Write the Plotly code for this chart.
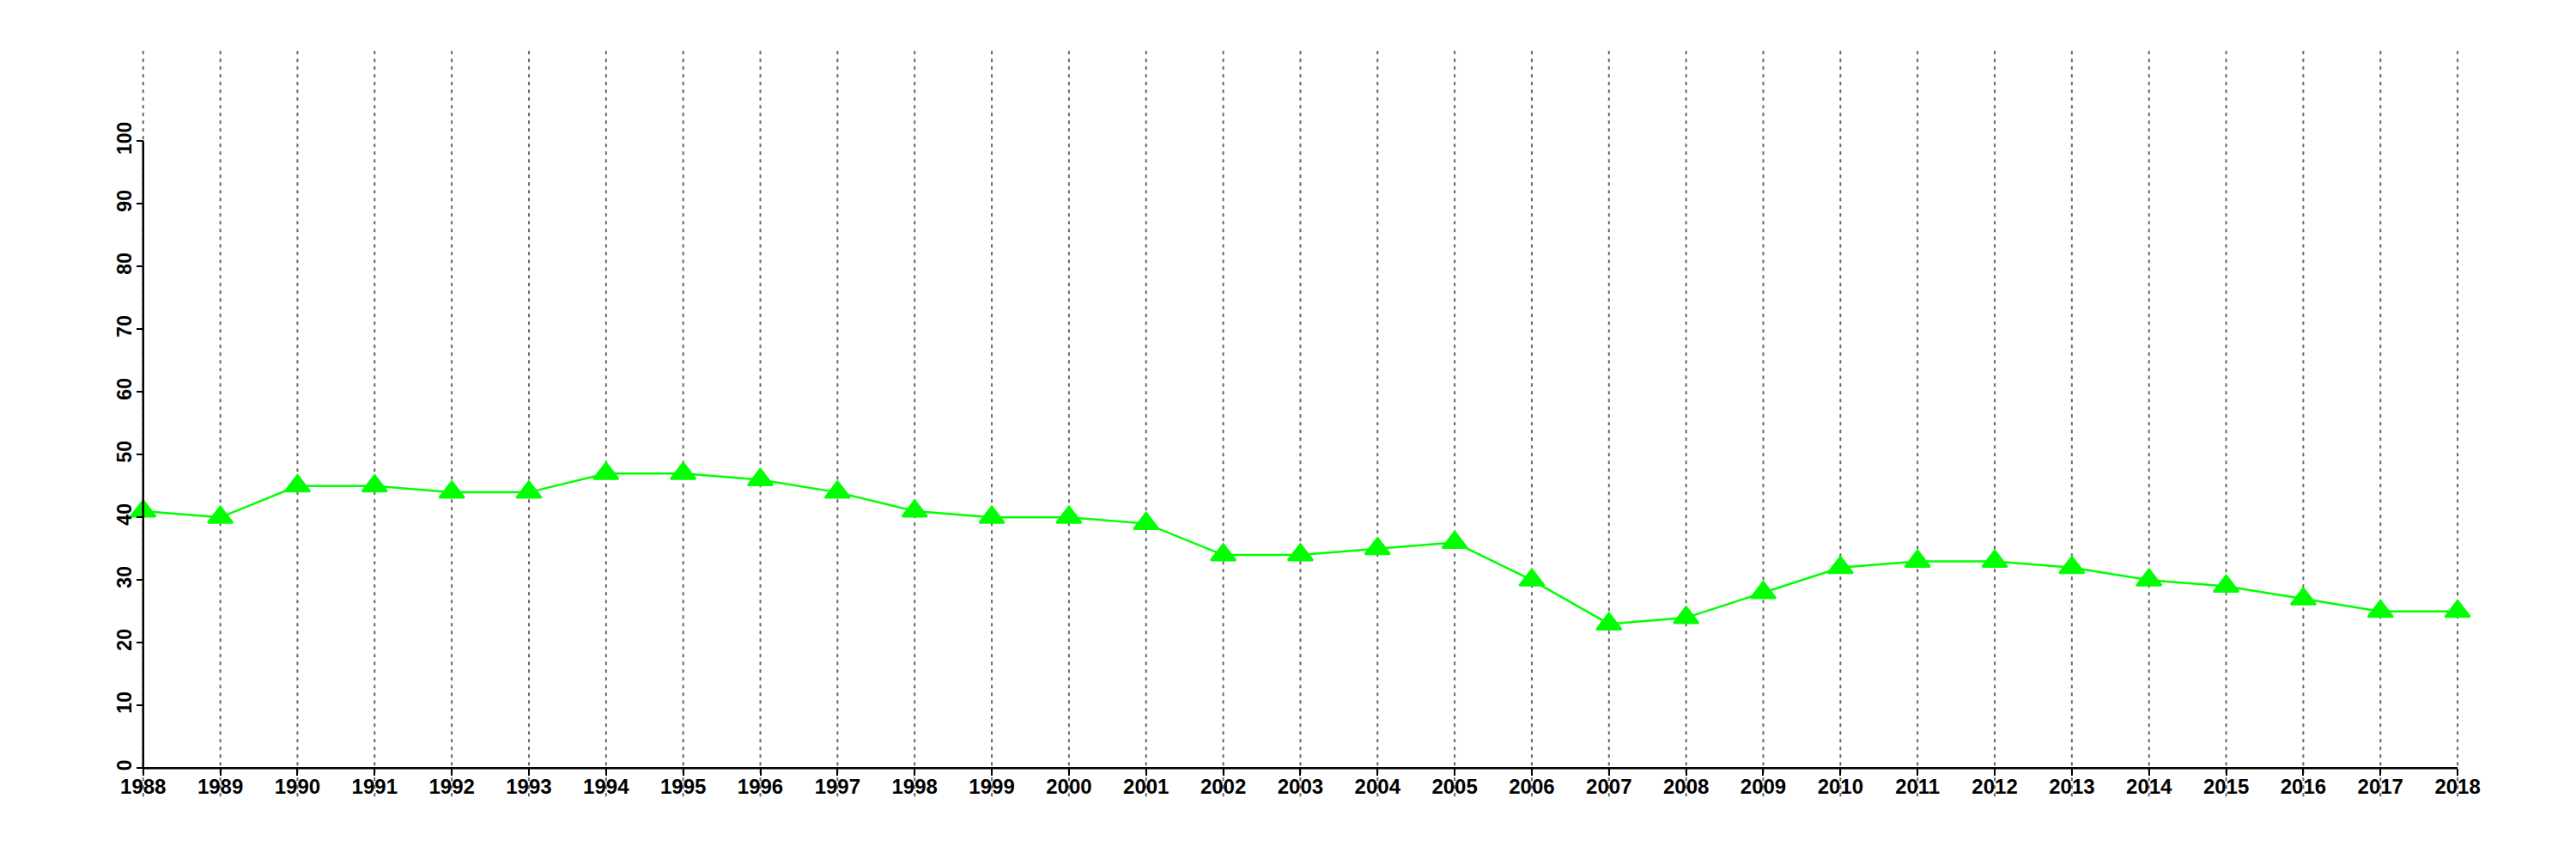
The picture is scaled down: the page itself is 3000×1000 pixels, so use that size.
import plotly.graph_objects as go

years = list(range(1988, 2019))
values = [41, 40, 45, 45, 44, 44, 47, 47, 46, 44, 41, 40, 40, 39, 34, 34, 35, 36,
          30, 23, 24, 28, 32, 33, 33, 32, 30, 29, 27, 25, 25]
y_ticks = list(range(0, 101, 10))

W, H = 3000, 1000
# page has an 8px body margin, so the plot area is shifted by -8
ML, MR, MT, MB = 52, 68, 32, 48
xr = [1986.812, 2018.867]
yr = [-9.0, 117.03]
grid_top, grid_bot = 114.4, -4.5

fig = go.Figure()
fig.add_trace(go.Scatter(
    x=years, y=values, mode="lines+markers",
    line=dict(color="#00ff00", width=2.5),
    marker=dict(symbol="triangle-up", size=25, color="#00ff00",
                line=dict(color="#00ff00", width=2.5)),
    cliponaxis=False, showlegend=False,
))

shapes = []
for yv in years:
    shapes.append(dict(type="line", xref="x", yref="y", x0=yv, x1=yv,
                       y0=grid_bot, y1=grid_top, layer="below",
                       line=dict(color="#666666", width=2, dash="4px,5px")))
# axis lines (span first to last tick)
shapes.append(dict(type="line", xref="x", yref="y", x0=years[0], x1=years[-1],
                   y0=0, y1=0, line=dict(color="black", width=2.5)))
shapes.append(dict(type="line", xref="x", yref="y", x0=years[0], x1=years[0],
                   y0=y_ticks[0], y1=y_ticks[-1], line=dict(color="black", width=2.5)))

xpos = (0 - yr[0]) / (yr[1] - yr[0])
ypos = (years[0] - xr[0]) / (xr[1] - xr[0])

font = dict(family="Liberation Sans, Arial, Helvetica, sans-serif", size=24,
            color="black", weight="bold")

fig.update_layout(
    width=W, height=H,
    margin=dict(l=ML, r=MR, t=MT, b=MB),
    plot_bgcolor="white", paper_bgcolor="white",
    shapes=shapes,
    xaxis=dict(range=xr, tickvals=years, ticktext=[str(y) for y in years],
               showgrid=False, zeroline=False, showline=False,
               ticks="outside", ticklen=8, tickwidth=2, tickcolor="black",
               anchor="free", position=xpos, tickfont=font, tickangle=0,
               ticklabelstandoff=-8),
    yaxis=dict(range=yr, tickvals=y_ticks, ticktext=[str(v) for v in y_ticks],
               showgrid=False, zeroline=False, showline=False,
               ticks="outside", ticklen=8, tickwidth=2, tickcolor="black",
               anchor="free", position=ypos, tickfont=dict(font, size=23),
               tickangle=-90, ticklabelstandoff=-3),
)

fig.write_html("out.html")
